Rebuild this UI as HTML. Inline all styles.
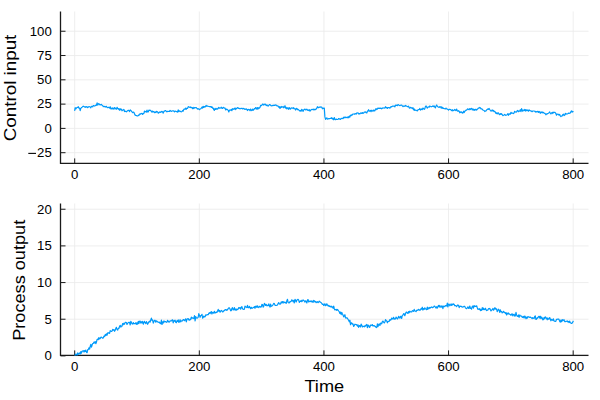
<!DOCTYPE html>
<html><head><meta charset="utf-8"><style>
html,body{margin:0;padding:0;background:#fff;width:600px;height:400px;overflow:hidden}
svg{display:block}
.tk{font-family:"Liberation Sans",sans-serif;font-size:12px;fill:#000;}
.gl{font-family:"Liberation Sans",sans-serif;font-size:16.3px;fill:#000}
</style></head><body>
<svg width="600" height="400" viewBox="0 0 600 400">
<rect width="600" height="400" fill="#fff"/>
<line x1="74.70" y1="11.5" x2="74.70" y2="163.4" stroke="#ebebeb" stroke-width="0.85"/>
<line x1="199.32" y1="11.5" x2="199.32" y2="163.4" stroke="#ebebeb" stroke-width="0.85"/>
<line x1="323.94" y1="11.5" x2="323.94" y2="163.4" stroke="#ebebeb" stroke-width="0.85"/>
<line x1="448.56" y1="11.5" x2="448.56" y2="163.4" stroke="#ebebeb" stroke-width="0.85"/>
<line x1="573.18" y1="11.5" x2="573.18" y2="163.4" stroke="#ebebeb" stroke-width="0.85"/>
<line x1="60.5" y1="152.69" x2="588.5" y2="152.69" stroke="#ebebeb" stroke-width="0.85"/>
<line x1="60.5" y1="128.40" x2="588.5" y2="128.40" stroke="#ebebeb" stroke-width="0.85"/>
<line x1="60.5" y1="104.11" x2="588.5" y2="104.11" stroke="#ebebeb" stroke-width="0.85"/>
<line x1="60.5" y1="79.82" x2="588.5" y2="79.82" stroke="#ebebeb" stroke-width="0.85"/>
<line x1="60.5" y1="55.53" x2="588.5" y2="55.53" stroke="#ebebeb" stroke-width="0.85"/>
<line x1="60.5" y1="31.24" x2="588.5" y2="31.24" stroke="#ebebeb" stroke-width="0.85"/>
<line x1="60.5" y1="11.5" x2="60.5" y2="163.9" stroke="#1a1a1a" stroke-width="1.3"/>
<line x1="60.0" y1="163.4" x2="588.5" y2="163.4" stroke="#1a1a1a" stroke-width="1.3"/>
<line x1="74.70" y1="163.4" x2="74.70" y2="158.4" stroke="#1a1a1a" stroke-width="1"/>
<line x1="199.32" y1="163.4" x2="199.32" y2="158.4" stroke="#1a1a1a" stroke-width="1"/>
<line x1="323.94" y1="163.4" x2="323.94" y2="158.4" stroke="#1a1a1a" stroke-width="1"/>
<line x1="448.56" y1="163.4" x2="448.56" y2="158.4" stroke="#1a1a1a" stroke-width="1"/>
<line x1="573.18" y1="163.4" x2="573.18" y2="158.4" stroke="#1a1a1a" stroke-width="1"/>
<line x1="60.5" y1="152.69" x2="65.5" y2="152.69" stroke="#1a1a1a" stroke-width="1"/>
<line x1="60.5" y1="128.40" x2="65.5" y2="128.40" stroke="#1a1a1a" stroke-width="1"/>
<line x1="60.5" y1="104.11" x2="65.5" y2="104.11" stroke="#1a1a1a" stroke-width="1"/>
<line x1="60.5" y1="79.82" x2="65.5" y2="79.82" stroke="#1a1a1a" stroke-width="1"/>
<line x1="60.5" y1="55.53" x2="65.5" y2="55.53" stroke="#1a1a1a" stroke-width="1"/>
<line x1="60.5" y1="31.24" x2="65.5" y2="31.24" stroke="#1a1a1a" stroke-width="1"/>
<text transform="translate(74.70,179.00) scale(1.1,1)" text-anchor="middle" class="tk">0</text>
<text transform="translate(199.32,179.00) scale(1.1,1)" text-anchor="middle" class="tk">200</text>
<text transform="translate(323.94,179.00) scale(1.1,1)" text-anchor="middle" class="tk">400</text>
<text transform="translate(448.56,179.00) scale(1.1,1)" text-anchor="middle" class="tk">600</text>
<text transform="translate(573.18,179.00) scale(1.1,1)" text-anchor="middle" class="tk">800</text>
<text transform="translate(51.8,156.99) scale(1.1,1)" text-anchor="end" class="tk">25</text>
<line x1="28.3" y1="153.39" x2="36" y2="153.39" stroke="#000" stroke-width="1.1"/>
<text transform="translate(51.8,132.70) scale(1.1,1)" text-anchor="end" class="tk">0</text>
<text transform="translate(51.8,108.41) scale(1.1,1)" text-anchor="end" class="tk">25</text>
<text transform="translate(51.8,84.12) scale(1.1,1)" text-anchor="end" class="tk">50</text>
<text transform="translate(51.8,59.83) scale(1.1,1)" text-anchor="end" class="tk">75</text>
<text transform="translate(51.8,35.54) scale(1.1,1)" text-anchor="end" class="tk">100</text>
<line x1="74.70" y1="203.5" x2="74.70" y2="355.4" stroke="#ebebeb" stroke-width="0.85"/>
<line x1="199.32" y1="203.5" x2="199.32" y2="355.4" stroke="#ebebeb" stroke-width="0.85"/>
<line x1="323.94" y1="203.5" x2="323.94" y2="355.4" stroke="#ebebeb" stroke-width="0.85"/>
<line x1="448.56" y1="203.5" x2="448.56" y2="355.4" stroke="#ebebeb" stroke-width="0.85"/>
<line x1="573.18" y1="203.5" x2="573.18" y2="355.4" stroke="#ebebeb" stroke-width="0.85"/>
<line x1="60.5" y1="355.90" x2="588.5" y2="355.90" stroke="#ebebeb" stroke-width="0.85"/>
<line x1="60.5" y1="319.23" x2="588.5" y2="319.23" stroke="#ebebeb" stroke-width="0.85"/>
<line x1="60.5" y1="282.57" x2="588.5" y2="282.57" stroke="#ebebeb" stroke-width="0.85"/>
<line x1="60.5" y1="245.90" x2="588.5" y2="245.90" stroke="#ebebeb" stroke-width="0.85"/>
<line x1="60.5" y1="209.24" x2="588.5" y2="209.24" stroke="#ebebeb" stroke-width="0.85"/>
<line x1="60.5" y1="203.5" x2="60.5" y2="355.9" stroke="#1a1a1a" stroke-width="1.3"/>
<line x1="60.0" y1="355.4" x2="588.5" y2="355.4" stroke="#1a1a1a" stroke-width="1.3"/>
<line x1="74.70" y1="355.4" x2="74.70" y2="350.4" stroke="#1a1a1a" stroke-width="1"/>
<line x1="199.32" y1="355.4" x2="199.32" y2="350.4" stroke="#1a1a1a" stroke-width="1"/>
<line x1="323.94" y1="355.4" x2="323.94" y2="350.4" stroke="#1a1a1a" stroke-width="1"/>
<line x1="448.56" y1="355.4" x2="448.56" y2="350.4" stroke="#1a1a1a" stroke-width="1"/>
<line x1="573.18" y1="355.4" x2="573.18" y2="350.4" stroke="#1a1a1a" stroke-width="1"/>
<line x1="60.5" y1="355.90" x2="65.5" y2="355.90" stroke="#1a1a1a" stroke-width="1"/>
<line x1="60.5" y1="319.23" x2="65.5" y2="319.23" stroke="#1a1a1a" stroke-width="1"/>
<line x1="60.5" y1="282.57" x2="65.5" y2="282.57" stroke="#1a1a1a" stroke-width="1"/>
<line x1="60.5" y1="245.90" x2="65.5" y2="245.90" stroke="#1a1a1a" stroke-width="1"/>
<line x1="60.5" y1="209.24" x2="65.5" y2="209.24" stroke="#1a1a1a" stroke-width="1"/>
<text transform="translate(74.70,371.00) scale(1.1,1)" text-anchor="middle" class="tk">0</text>
<text transform="translate(199.32,371.00) scale(1.1,1)" text-anchor="middle" class="tk">200</text>
<text transform="translate(323.94,371.00) scale(1.1,1)" text-anchor="middle" class="tk">400</text>
<text transform="translate(448.56,371.00) scale(1.1,1)" text-anchor="middle" class="tk">600</text>
<text transform="translate(573.18,371.00) scale(1.1,1)" text-anchor="middle" class="tk">800</text>
<text transform="translate(51.8,360.20) scale(1.1,1)" text-anchor="end" class="tk">0</text>
<text transform="translate(51.8,323.53) scale(1.1,1)" text-anchor="end" class="tk">5</text>
<text transform="translate(51.8,286.87) scale(1.1,1)" text-anchor="end" class="tk">10</text>
<text transform="translate(51.8,250.20) scale(1.1,1)" text-anchor="end" class="tk">15</text>
<text transform="translate(51.8,213.54) scale(1.1,1)" text-anchor="end" class="tk">20</text>
<path d="M74.6 110.8L75.2 107.7L75.8 109.0L76.5 107.9L77.1 107.5L77.7 107.4L78.3 106.7L79.0 108.2L79.6 108.2L80.2 110.6L80.8 108.4L81.5 107.6L82.1 107.2L82.7 106.6L83.3 106.2L84.0 106.6L84.6 107.1L85.2 106.7L85.8 107.4L86.5 106.7L87.1 106.8L87.7 107.7L88.3 107.1L89.0 106.5L89.6 106.7L90.2 107.0L90.8 107.8L91.5 106.3L92.1 106.3L92.7 106.9L93.3 105.6L94.0 105.7L94.6 106.1L95.2 105.7L95.8 105.2L96.4 105.3L97.1 102.9L97.7 105.2L98.3 104.0L98.9 103.6L99.6 104.8L100.2 105.0L100.8 104.5L101.4 104.4L102.1 105.3L102.7 105.5L103.3 106.6L103.9 106.5L104.6 106.4L105.2 107.1L105.8 106.6L106.4 106.3L107.1 107.5L107.7 107.7L108.3 107.4L108.9 107.3L109.6 108.1L110.2 106.7L110.8 108.8L111.4 108.9L112.1 107.8L112.7 108.9L113.3 108.2L113.9 109.2L114.6 107.5L115.2 108.1L115.8 109.0L116.4 109.2L117.1 107.3L117.7 108.5L118.3 109.1L118.9 108.7L119.5 110.2L120.2 108.7L120.8 109.8L121.4 109.1L122.0 110.8L122.7 110.1L123.3 110.0L123.9 109.4L124.5 111.6L125.2 111.2L125.8 111.4L126.4 111.8L127.0 111.2L127.7 110.6L128.3 110.4L128.9 110.4L129.5 111.6L130.2 109.9L130.8 110.4L131.4 111.1L132.0 111.9L132.7 112.7L133.3 112.1L133.9 112.3L134.5 113.9L135.2 115.1L135.8 115.4L136.4 115.6L137.0 115.8L137.7 116.0L138.3 115.3L138.9 115.5L139.5 114.1L140.1 114.3L140.8 113.7L141.4 113.7L142.0 113.3L142.6 114.4L143.3 113.6L143.9 113.4L144.5 111.0L145.1 111.8L145.8 111.4L146.4 112.0L147.0 110.1L147.6 112.0L148.3 111.8L148.9 110.2L149.5 110.3L150.1 110.2L150.8 110.8L151.4 111.3L152.0 112.3L152.6 111.1L153.3 111.8L153.9 111.5L154.5 112.6L155.1 112.1L155.8 112.6L156.4 111.3L157.0 111.9L157.6 111.7L158.3 113.2L158.9 112.8L159.5 112.1L160.1 111.9L160.8 112.4L161.4 111.5L162.0 111.3L162.6 112.0L163.2 113.1L163.9 111.4L164.5 111.1L165.1 110.6L165.7 110.5L166.4 111.6L167.0 111.8L167.6 111.3L168.2 111.5L168.9 111.4L169.5 111.4L170.1 110.4L170.7 111.0L171.4 111.4L172.0 110.8L172.6 111.0L173.2 110.8L173.9 111.1L174.5 111.8L175.1 111.0L175.7 111.2L176.4 111.7L177.0 111.6L177.6 112.2L178.2 109.9L178.9 111.7L179.5 110.9L180.1 111.2L180.7 111.6L181.4 111.8L182.0 111.5L182.6 110.5L183.2 111.0L183.8 109.4L184.5 109.1L185.1 109.3L185.7 108.0L186.3 109.3L187.0 108.2L187.6 108.4L188.2 106.8L188.8 106.7L189.5 107.2L190.1 107.6L190.7 107.0L191.3 107.7L192.0 107.6L192.6 108.7L193.2 107.4L193.8 108.6L194.5 107.7L195.1 107.6L195.7 107.8L196.3 107.6L197.0 108.5L197.6 109.1L198.2 108.7L198.8 109.1L199.5 109.7L200.1 109.0L200.7 108.8L201.3 108.2L202.0 107.1L202.6 108.1L203.2 106.3L203.8 107.4L204.5 106.6L205.1 107.0L205.7 105.9L206.3 105.5L206.9 106.3L207.6 105.9L208.2 106.3L208.8 106.5L209.4 106.6L210.1 106.7L210.7 106.6L211.3 107.4L211.9 106.7L212.6 108.2L213.2 108.0L213.8 109.8L214.4 110.3L215.1 108.3L215.7 109.4L216.3 109.1L216.9 108.3L217.6 109.1L218.2 108.4L218.8 107.4L219.4 108.1L220.1 108.1L220.7 108.0L221.3 107.2L221.9 108.3L222.6 108.4L223.2 107.3L223.8 107.7L224.4 108.1L225.1 108.2L225.7 110.0L226.3 109.4L226.9 109.1L227.5 109.6L228.2 110.4L228.8 112.0L229.4 110.2L230.0 110.2L230.7 110.1L231.3 109.5L231.9 110.7L232.5 108.7L233.2 109.3L233.8 108.9L234.4 109.1L235.0 107.9L235.7 109.6L236.3 108.4L236.9 108.4L237.5 107.7L238.2 107.8L238.8 108.5L239.4 108.6L240.0 108.4L240.7 108.7L241.3 108.5L241.9 108.2L242.5 108.8L243.2 108.7L243.8 108.4L244.4 109.1L245.0 109.5L245.7 109.0L246.3 108.8L246.9 109.6L247.5 110.5L248.1 109.4L248.8 109.6L249.4 109.7L250.0 110.7L250.6 109.0L251.3 110.3L251.9 110.6L252.5 109.1L253.1 110.3L253.8 109.5L254.4 108.6L255.0 108.9L255.6 107.6L256.3 108.0L256.9 109.3L257.5 107.5L258.1 109.0L258.8 107.7L259.4 108.2L260.0 107.4L260.6 105.3L261.3 105.6L261.9 105.3L262.5 104.1L263.1 104.1L263.8 105.1L264.4 104.6L265.0 104.0L265.6 104.6L266.3 105.6L266.9 104.8L267.5 105.7L268.1 106.1L268.8 105.3L269.4 104.6L270.0 104.5L270.6 105.3L271.2 105.9L271.9 105.5L272.5 105.7L273.1 105.2L273.7 105.6L274.4 105.2L275.0 105.3L275.6 104.9L276.2 105.0L276.9 105.9L277.5 105.8L278.1 106.1L278.7 107.2L279.4 106.7L280.0 108.5L280.6 107.4L281.2 106.4L281.9 107.3L282.5 107.0L283.1 106.5L283.7 107.8L284.4 106.8L285.0 105.7L285.6 108.2L286.2 107.5L286.9 109.0L287.5 107.9L288.1 107.8L288.7 109.4L289.4 107.7L290.0 108.4L290.6 109.0L291.2 108.1L291.8 107.9L292.5 108.0L293.1 108.5L293.7 107.7L294.3 108.7L295.0 108.8L295.6 110.0L296.2 108.6L296.8 108.4L297.5 109.7L298.1 109.3L298.7 110.0L299.3 110.3L300.0 111.2L300.6 110.4L301.2 111.0L301.8 109.3L302.5 110.1L303.1 111.4L303.7 109.8L304.3 109.6L305.0 109.1L305.6 110.0L306.2 109.8L306.8 109.1L307.5 110.3L308.1 110.1L308.7 110.5L309.3 109.7L310.0 111.2L310.6 110.3L311.2 109.8L311.8 109.4L312.5 109.4L313.1 109.9L313.7 109.1L314.3 109.8L314.9 109.3L315.6 109.6L316.2 109.0L316.8 108.1L317.4 106.7L318.1 107.7L318.7 107.7L319.3 107.0L319.9 107.3L320.6 106.9L321.2 107.2L321.8 107.1L322.4 108.8L323.1 108.3L323.7 108.2L324.3 108.1L324.9 116.9L325.6 119.3L326.2 118.6L326.8 117.8L327.4 119.1L328.1 119.0L328.7 118.6L329.3 118.5L329.9 118.6L330.6 118.2L331.2 118.4L331.8 117.6L332.4 119.1L333.1 118.6L333.7 119.8L334.3 117.5L334.9 119.3L335.5 119.7L336.2 119.1L336.8 119.5L337.4 119.5L338.0 119.3L338.7 118.5L339.3 118.7L339.9 119.2L340.5 119.3L341.2 118.5L341.8 118.3L342.4 118.3L343.0 118.7L343.7 117.4L344.3 117.1L344.9 117.9L345.5 117.1L346.2 117.3L346.8 117.6L347.4 117.8L348.0 116.7L348.7 117.8L349.3 116.1L349.9 117.0L350.5 115.3L351.2 114.9L351.8 115.6L352.4 114.4L353.0 114.0L353.7 114.0L354.3 114.3L354.9 113.8L355.5 113.7L356.2 114.1L356.8 112.9L357.4 113.0L358.0 112.9L358.6 113.9L359.3 113.7L359.9 113.8L360.5 113.0L361.1 112.9L361.8 113.4L362.4 112.6L363.0 113.3L363.6 113.1L364.3 112.0L364.9 112.1L365.5 111.9L366.1 112.7L366.8 113.0L367.4 111.2L368.0 111.1L368.6 109.7L369.3 111.2L369.9 111.1L370.5 110.5L371.1 111.6L371.8 110.2L372.4 111.0L373.0 111.2L373.6 110.1L374.3 111.0L374.9 110.8L375.5 109.0L376.1 108.7L376.8 109.6L377.4 108.9L378.0 108.0L378.6 108.4L379.2 108.3L379.9 108.1L380.5 108.5L381.1 108.1L381.7 108.8L382.4 108.3L383.0 107.8L383.6 108.0L384.2 108.2L384.9 107.8L385.5 106.7L386.1 107.9L386.7 107.4L387.4 108.4L388.0 107.5L388.6 107.7L389.2 107.6L389.9 108.2L390.5 107.1L391.1 106.7L391.7 106.8L392.4 106.1L393.0 106.3L393.6 106.0L394.2 106.0L394.9 106.8L395.5 105.2L396.1 105.3L396.7 105.2L397.4 105.7L398.0 104.6L398.6 104.9L399.2 105.3L399.9 105.6L400.5 105.3L401.1 105.1L401.7 105.0L402.3 105.9L403.0 106.6L403.6 106.0L404.2 106.0L404.8 106.3L405.5 105.5L406.1 106.0L406.7 106.1L407.3 106.7L408.0 106.7L408.6 106.1L409.2 107.7L409.8 108.2L410.5 107.3L411.1 107.8L411.7 107.9L412.3 108.5L413.0 107.6L413.6 109.8L414.2 109.0L414.8 110.4L415.5 110.1L416.1 110.3L416.7 110.5L417.3 110.9L418.0 109.7L418.6 109.7L419.2 109.5L419.8 108.5L420.5 110.1L421.1 109.5L421.7 108.9L422.3 109.5L422.9 108.1L423.6 108.5L424.2 109.4L424.8 108.8L425.4 106.7L426.1 105.9L426.7 107.1L427.3 108.1L427.9 107.0L428.6 106.9L429.2 107.2L429.8 106.0L430.4 106.5L431.1 106.8L431.7 106.6L432.3 106.5L432.9 105.9L433.6 106.6L434.2 106.0L434.8 107.1L435.4 107.8L436.1 105.9L436.7 105.0L437.3 106.1L437.9 106.8L438.6 107.3L439.2 107.5L439.8 106.5L440.4 106.7L441.1 108.1L441.7 106.8L442.3 108.3L442.9 107.7L443.5 108.5L444.2 108.6L444.8 108.8L445.4 109.0L446.0 108.1L446.7 109.0L447.3 109.0L447.9 109.4L448.5 110.1L449.2 109.4L449.8 109.3L450.4 109.5L451.0 109.9L451.7 110.7L452.3 109.7L452.9 110.9L453.5 110.4L454.2 110.1L454.8 109.4L455.4 110.3L456.0 110.6L456.7 109.1L457.3 110.9L457.9 111.2L458.5 110.7L459.2 111.2L459.8 112.8L460.4 112.5L461.0 111.6L461.7 112.5L462.3 112.9L462.9 113.1L463.5 111.2L464.2 112.5L464.8 111.0L465.4 110.9L466.0 110.2L466.6 110.2L467.3 109.3L467.9 108.8L468.5 109.5L469.1 109.8L469.8 108.6L470.4 109.5L471.0 108.7L471.6 108.4L472.3 109.9L472.9 108.8L473.5 110.1L474.1 109.4L474.8 110.3L475.4 109.4L476.0 109.3L476.6 110.1L477.3 109.2L477.9 108.7L478.5 108.0L479.1 108.2L479.8 107.4L480.4 107.9L481.0 108.9L481.6 108.8L482.3 109.3L482.9 110.0L483.5 110.3L484.1 110.5L484.8 111.5L485.4 111.0L486.0 110.9L486.6 110.0L487.2 109.6L487.9 108.8L488.5 109.4L489.1 108.5L489.7 109.5L490.4 110.4L491.0 111.1L491.6 110.8L492.2 109.9L492.9 111.0L493.5 110.5L494.1 111.7L494.7 111.4L495.4 112.2L496.0 113.5L496.6 112.8L497.2 113.9L497.9 112.9L498.5 112.9L499.1 114.2L499.7 114.7L500.4 113.6L501.0 114.3L501.6 113.7L502.2 114.7L502.9 115.6L503.5 115.3L504.1 114.9L504.7 114.3L505.4 115.2L506.0 115.3L506.6 115.0L507.2 114.7L507.9 113.6L508.5 115.3L509.1 114.1L509.7 113.9L510.3 114.2L511.0 112.3L511.6 113.3L512.2 113.1L512.8 113.2L513.5 113.6L514.1 112.9L514.7 111.3L515.3 112.0L516.0 112.1L516.6 111.9L517.2 110.8L517.8 110.4L518.5 111.6L519.1 111.3L519.7 110.9L520.3 109.7L521.0 111.6L521.6 108.7L522.2 110.0L522.8 111.3L523.5 110.0L524.1 110.3L524.7 109.5L525.3 111.1L526.0 109.6L526.6 110.6L527.2 110.6L527.8 110.0L528.5 111.2L529.1 109.9L529.7 110.4L530.3 110.9L530.9 110.8L531.6 111.4L532.2 111.7L532.8 111.0L533.4 111.0L534.1 111.0L534.7 111.2L535.3 112.0L535.9 111.4L536.6 111.9L537.2 111.6L537.8 111.3L538.4 112.4L539.1 111.4L539.7 112.2L540.3 113.3L540.9 111.9L541.6 112.7L542.2 112.0L542.8 112.8L543.4 112.3L544.1 113.2L544.7 113.3L545.3 113.8L545.9 114.8L546.6 113.9L547.2 114.0L547.8 113.5L548.4 113.2L549.1 112.7L549.7 112.0L550.3 113.0L550.9 113.9L551.6 113.0L552.2 112.3L552.8 113.5L553.4 112.2L554.0 112.4L554.7 112.3L555.3 112.8L555.9 113.5L556.5 115.2L557.2 114.2L557.8 114.0L558.4 114.5L559.0 115.1L559.7 114.5L560.3 115.9L560.9 116.5L561.5 116.0L562.2 115.9L562.8 114.6L563.4 114.1L564.0 115.6L564.7 115.2L565.3 113.4L565.9 114.2L566.5 113.9L567.2 114.0L567.8 113.7L568.4 113.1L569.0 113.4L569.7 113.2L570.3 113.0L570.9 111.7L571.5 110.9L572.2 112.1L572.8 111.4L573.4 112.0" fill="none" stroke="#009afa" stroke-width="1.2" stroke-linejoin="round"/>
<path d="M74.6 355.5L75.2 355.1L75.8 354.1L76.5 354.3L77.1 355.1L77.7 352.8L78.3 354.3L79.0 353.7L79.6 353.0L80.2 354.0L80.8 351.6L81.5 353.2L82.1 351.1L82.7 351.1L83.3 350.7L84.0 352.1L84.6 350.5L85.2 351.4L85.8 350.1L86.5 352.2L87.1 352.7L87.7 349.6L88.3 349.6L89.0 347.8L89.6 349.1L90.2 346.5L90.8 344.3L91.5 347.1L92.1 345.0L92.7 343.6L93.3 343.5L94.0 342.0L94.6 343.0L95.2 341.5L95.8 343.7L96.4 342.3L97.1 339.4L97.7 339.0L98.3 339.5L98.9 337.5L99.6 339.0L100.2 338.6L100.8 337.3L101.4 337.1L102.1 337.7L102.7 338.2L103.3 337.9L103.9 336.1L104.6 336.6L105.2 334.6L105.8 335.5L106.4 333.8L107.1 335.2L107.7 332.9L108.3 332.7L108.9 333.2L109.6 333.3L110.2 330.7L110.8 331.2L111.4 331.4L112.1 331.0L112.7 329.4L113.3 330.1L113.9 329.6L114.6 331.3L115.2 330.3L115.8 328.3L116.4 327.3L117.1 329.6L117.7 330.1L118.3 328.4L118.9 328.5L119.5 326.6L120.2 325.3L120.8 327.1L121.4 326.0L122.0 326.2L122.7 323.5L123.3 324.6L123.9 323.2L124.5 324.2L125.2 322.4L125.8 322.4L126.4 322.5L127.0 324.5L127.7 323.3L128.3 322.5L128.9 322.3L129.5 322.4L130.2 325.0L130.8 321.4L131.4 322.3L132.0 323.7L132.7 324.1L133.3 322.6L133.9 323.6L134.5 323.5L135.2 323.7L135.8 322.7L136.4 324.4L137.0 322.8L137.7 324.2L138.3 321.4L138.9 323.5L139.5 321.2L140.1 321.0L140.8 323.1L141.4 321.7L142.0 323.0L142.6 321.4L143.3 324.2L143.9 322.5L144.5 321.4L145.1 322.7L145.8 323.5L146.4 321.6L147.0 322.8L147.6 324.3L148.3 322.9L148.9 321.8L149.5 321.1L150.1 322.2L150.8 319.8L151.4 318.1L152.0 320.4L152.6 320.0L153.3 323.1L153.9 321.5L154.5 320.4L155.1 320.3L155.8 322.2L156.4 320.9L157.0 321.2L157.6 321.9L158.3 322.2L158.9 322.3L159.5 322.2L160.1 323.4L160.8 323.7L161.4 320.2L162.0 324.5L162.6 321.9L163.2 323.0L163.9 320.9L164.5 321.9L165.1 321.7L165.7 321.6L166.4 322.3L167.0 322.1L167.6 320.3L168.2 321.2L168.9 322.1L169.5 322.0L170.1 320.9L170.7 320.9L171.4 321.0L172.0 320.0L172.6 319.8L173.2 322.8L173.9 320.7L174.5 321.1L175.1 320.2L175.7 322.3L176.4 322.7L177.0 320.6L177.6 321.3L178.2 319.9L178.9 322.5L179.5 321.6L180.1 319.7L180.7 321.8L181.4 320.9L182.0 320.9L182.6 320.8L183.2 319.6L183.8 319.6L184.5 320.7L185.1 319.9L185.7 318.8L186.3 321.8L187.0 319.3L187.6 318.8L188.2 318.6L188.8 319.9L189.5 320.1L190.1 319.2L190.7 319.7L191.3 317.1L192.0 318.1L192.6 317.9L193.2 318.2L193.8 318.5L194.5 315.7L195.1 321.0L195.7 316.6L196.3 317.8L197.0 318.1L197.6 318.0L198.2 317.2L198.8 313.7L199.5 315.5L200.1 317.3L200.7 315.6L201.3 315.5L202.0 314.3L202.6 318.1L203.2 317.5L203.8 316.1L204.5 317.0L205.1 316.7L205.7 314.9L206.3 315.1L206.9 314.9L207.6 314.5L208.2 314.7L208.8 313.3L209.4 312.7L210.1 313.5L210.7 312.4L211.3 311.6L211.9 314.0L212.6 312.3L213.2 312.8L213.8 313.2L214.4 311.3L215.1 313.0L215.7 312.7L216.3 312.1L216.9 312.5L217.6 311.1L218.2 309.4L218.8 311.3L219.4 310.5L220.1 312.2L220.7 311.4L221.3 310.4L221.9 310.8L222.6 312.0L223.2 311.7L223.8 310.7L224.4 310.6L225.1 309.7L225.7 309.7L226.3 310.4L226.9 309.6L227.5 310.0L228.2 308.5L228.8 307.8L229.4 307.8L230.0 309.0L230.7 310.8L231.3 310.6L231.9 308.3L232.5 307.6L233.2 310.0L233.8 309.6L234.4 307.6L235.0 310.1L235.7 309.1L236.3 310.2L236.9 309.1L237.5 309.6L238.2 309.0L238.8 307.5L239.4 308.2L240.0 307.7L240.7 309.2L241.3 307.2L241.9 306.6L242.5 308.8L243.2 309.2L243.8 309.5L244.4 309.0L245.0 306.2L245.7 307.0L246.3 307.1L246.9 307.6L247.5 305.3L248.1 307.5L248.8 307.8L249.4 306.4L250.0 307.5L250.6 308.6L251.3 307.3L251.9 308.3L252.5 308.2L253.1 307.6L253.8 307.5L254.4 306.6L255.0 308.3L255.6 306.4L256.3 306.1L256.9 307.5L257.5 305.9L258.1 307.0L258.8 307.6L259.4 306.4L260.0 306.4L260.6 307.1L261.3 306.9L261.9 304.4L262.5 304.5L263.1 307.2L263.8 306.1L264.4 303.4L265.0 304.1L265.6 305.5L266.3 304.4L266.9 305.8L267.5 305.4L268.1 305.7L268.8 303.9L269.4 305.7L270.0 307.1L270.6 304.1L271.2 306.3L271.9 305.9L272.5 305.5L273.1 304.6L273.7 303.4L274.4 303.6L275.0 305.2L275.6 305.4L276.2 305.5L276.9 305.2L277.5 305.0L278.1 303.5L278.7 302.6L279.4 304.0L280.0 304.2L280.6 303.7L281.2 301.9L281.9 302.8L282.5 301.6L283.1 303.1L283.7 301.7L284.4 302.4L285.0 302.7L285.6 302.3L286.2 303.4L286.9 300.6L287.5 299.3L288.1 302.4L288.7 302.8L289.4 302.8L290.0 301.5L290.6 301.8L291.2 301.3L291.8 299.8L292.5 300.5L293.1 301.6L293.7 300.4L294.3 303.0L295.0 299.3L295.6 300.4L296.2 302.0L296.8 300.2L297.5 299.6L298.1 299.4L298.7 300.1L299.3 302.4L300.0 301.3L300.6 301.4L301.2 300.3L301.8 301.7L302.5 300.9L303.1 299.9L303.7 300.4L304.3 301.0L305.0 302.1L305.6 300.8L306.2 301.4L306.8 303.0L307.5 300.0L308.1 299.6L308.7 302.0L309.3 301.5L310.0 301.0L310.6 301.5L311.2 300.9L311.8 301.9L312.5 301.1L313.1 302.4L313.7 300.4L314.3 300.8L314.9 301.9L315.6 301.4L316.2 302.7L316.8 302.0L317.4 301.7L318.1 302.7L318.7 302.1L319.3 301.2L319.9 301.8L320.6 302.3L321.2 302.7L321.8 303.5L322.4 304.4L323.1 304.1L323.7 305.5L324.3 305.1L324.9 303.7L325.6 305.7L326.2 305.3L326.8 303.8L327.4 304.9L328.1 306.0L328.7 305.4L329.3 306.5L329.9 306.1L330.6 306.8L331.2 306.1L331.8 307.2L332.4 306.8L333.1 308.3L333.7 306.2L334.3 308.7L334.9 310.0L335.5 309.7L336.2 309.4L336.8 310.4L337.4 309.5L338.0 310.0L338.7 311.0L339.3 311.8L339.9 313.5L340.5 312.1L341.2 314.6L341.8 312.4L342.4 313.8L343.0 315.1L343.7 316.9L344.3 315.7L344.9 314.7L345.5 317.9L346.2 318.1L346.8 317.6L347.4 318.2L348.0 319.2L348.7 320.6L349.3 321.8L349.9 320.2L350.5 324.7L351.2 322.9L351.8 322.9L352.4 324.2L353.0 323.9L353.7 326.5L354.3 325.5L354.9 324.2L355.5 324.4L356.2 324.6L356.8 324.9L357.4 326.1L358.0 324.8L358.6 327.3L359.3 325.7L359.9 325.7L360.5 327.0L361.1 324.1L361.8 325.3L362.4 327.0L363.0 326.4L363.6 326.3L364.3 326.8L364.9 325.7L365.5 326.2L366.1 324.9L366.8 324.4L367.4 327.6L368.0 325.2L368.6 325.3L369.3 327.4L369.9 327.0L370.5 325.2L371.1 325.1L371.8 325.5L372.4 324.6L373.0 326.1L373.6 325.7L374.3 325.7L374.9 326.4L375.5 326.4L376.1 327.6L376.8 327.3L377.4 323.9L378.0 326.7L378.6 324.6L379.2 324.0L379.9 325.5L380.5 323.3L381.1 323.0L381.7 323.8L382.4 321.5L383.0 321.1L383.6 322.2L384.2 323.0L384.9 322.0L385.5 319.7L386.1 320.4L386.7 320.8L387.4 322.8L388.0 321.5L388.6 321.3L389.2 321.4L389.9 319.5L390.5 320.1L391.1 319.8L391.7 318.0L392.4 318.8L393.0 319.1L393.6 317.3L394.2 319.1L394.9 318.9L395.5 319.0L396.1 317.0L396.7 317.8L397.4 319.0L398.0 318.2L398.6 316.4L399.2 317.3L399.9 318.2L400.5 316.3L401.1 316.5L401.7 318.5L402.3 315.4L403.0 315.0L403.6 313.7L404.2 313.8L404.8 315.7L405.5 313.7L406.1 312.2L406.7 312.2L407.3 312.9L408.0 313.4L408.6 311.5L409.2 312.7L409.8 311.1L410.5 311.8L411.1 311.9L411.7 311.9L412.3 310.7L413.0 310.8L413.6 311.4L414.2 309.4L414.8 310.9L415.5 311.1L416.1 311.6L416.7 310.3L417.3 310.1L418.0 310.3L418.6 309.3L419.2 309.7L419.8 310.3L420.5 310.0L421.1 308.5L421.7 309.2L422.3 307.2L422.9 310.1L423.6 308.6L424.2 309.3L424.8 307.8L425.4 308.8L426.1 309.2L426.7 309.7L427.3 307.1L427.9 309.3L428.6 308.2L429.2 307.4L429.8 308.5L430.4 307.6L431.1 307.4L431.7 306.9L432.3 307.7L432.9 307.4L433.6 307.0L434.2 306.0L434.8 306.3L435.4 307.2L436.1 308.1L436.7 306.7L437.3 308.1L437.9 306.6L438.6 305.4L439.2 307.1L439.8 305.4L440.4 306.8L441.1 307.4L441.7 305.9L442.3 306.1L442.9 308.7L443.5 306.2L444.2 306.2L444.8 306.7L445.4 305.7L446.0 305.6L446.7 306.0L447.3 303.0L447.9 306.9L448.5 304.2L449.2 304.2L449.8 305.8L450.4 305.2L451.0 303.9L451.7 305.5L452.3 304.1L452.9 304.6L453.5 303.8L454.2 304.5L454.8 305.8L455.4 305.6L456.0 305.8L456.7 306.5L457.3 305.5L457.9 304.9L458.5 305.4L459.2 307.6L459.8 306.1L460.4 306.5L461.0 306.2L461.7 306.8L462.3 307.1L462.9 306.8L463.5 306.8L464.2 306.3L464.8 306.4L465.4 307.9L466.0 308.4L466.6 308.7L467.3 307.8L467.9 306.8L468.5 308.3L469.1 308.3L469.8 306.0L470.4 308.4L471.0 308.1L471.6 309.2L472.3 306.3L472.9 306.1L473.5 308.2L474.1 305.5L474.8 306.5L475.4 306.2L476.0 306.5L476.6 305.8L477.3 307.8L477.9 309.4L478.5 309.1L479.1 309.3L479.8 308.7L480.4 310.6L481.0 309.7L481.6 310.3L482.3 307.6L482.9 309.6L483.5 308.1L484.1 309.7L484.8 309.5L485.4 308.2L486.0 309.6L486.6 310.6L487.2 310.0L487.9 310.1L488.5 308.6L489.1 308.8L489.7 308.4L490.4 309.7L491.0 310.9L491.6 310.1L492.2 309.7L492.9 308.5L493.5 310.2L494.1 309.5L494.7 307.8L495.4 308.0L496.0 309.5L496.6 308.9L497.2 311.7L497.9 310.2L498.5 309.2L499.1 310.0L499.7 312.3L500.4 309.8L501.0 311.8L501.6 311.6L502.2 312.9L502.9 312.1L503.5 311.3L504.1 312.5L504.7 312.3L505.4 313.5L506.0 312.6L506.6 315.0L507.2 313.1L507.9 313.9L508.5 313.0L509.1 314.1L509.7 314.2L510.3 314.5L511.0 315.4L511.6 314.0L512.2 313.8L512.8 315.9L513.5 314.5L514.1 314.2L514.7 316.2L515.3 315.9L516.0 312.4L516.6 314.9L517.2 316.2L517.8 316.4L518.5 315.0L519.1 317.3L519.7 315.0L520.3 315.7L521.0 316.1L521.6 316.1L522.2 317.1L522.8 317.4L523.5 316.4L524.1 318.0L524.7 316.0L525.3 316.6L526.0 318.7L526.6 317.1L527.2 318.2L527.8 316.7L528.5 316.9L529.1 317.1L529.7 317.5L530.3 317.0L530.9 317.4L531.6 318.1L532.2 318.7L532.8 317.6L533.4 318.2L534.1 318.6L534.7 316.5L535.3 316.0L535.9 319.4L536.6 319.1L537.2 317.8L537.8 318.1L538.4 316.8L539.1 316.3L539.7 318.1L540.3 316.2L540.9 318.7L541.6 317.0L542.2 318.0L542.8 319.8L543.4 319.7L544.1 317.4L544.7 318.8L545.3 316.8L545.9 317.4L546.6 318.6L547.2 319.8L547.8 317.9L548.4 319.2L549.1 318.9L549.7 317.6L550.3 319.0L550.9 320.8L551.6 319.3L552.2 319.9L552.8 320.3L553.4 318.8L554.0 320.9L554.7 321.2L555.3 321.4L555.9 321.1L556.5 319.3L557.2 319.3L557.8 319.1L558.4 319.1L559.0 319.4L559.7 321.4L560.3 322.1L560.9 320.0L561.5 321.7L562.2 319.6L562.8 320.8L563.4 320.2L564.0 319.7L564.7 321.6L565.3 321.7L565.9 321.3L566.5 321.3L567.2 320.9L567.8 321.9L568.4 321.5L569.0 322.5L569.7 321.1L570.3 322.7L570.9 323.0L571.5 323.5L572.2 323.1L572.8 322.0L573.4 320.9" fill="none" stroke="#009afa" stroke-width="1.2" stroke-linejoin="round"/>
<text transform="translate(16.0,88.0) rotate(-90) scale(1.155,1)" text-anchor="middle" class="gl">Control input</text>
<text transform="translate(25,280.3) rotate(-90) scale(1.113,1)" text-anchor="middle" class="gl">Process output</text>
<text transform="translate(324.3,392) scale(1.117,1)" text-anchor="middle" class="gl">Time</text>
</svg></body></html>
